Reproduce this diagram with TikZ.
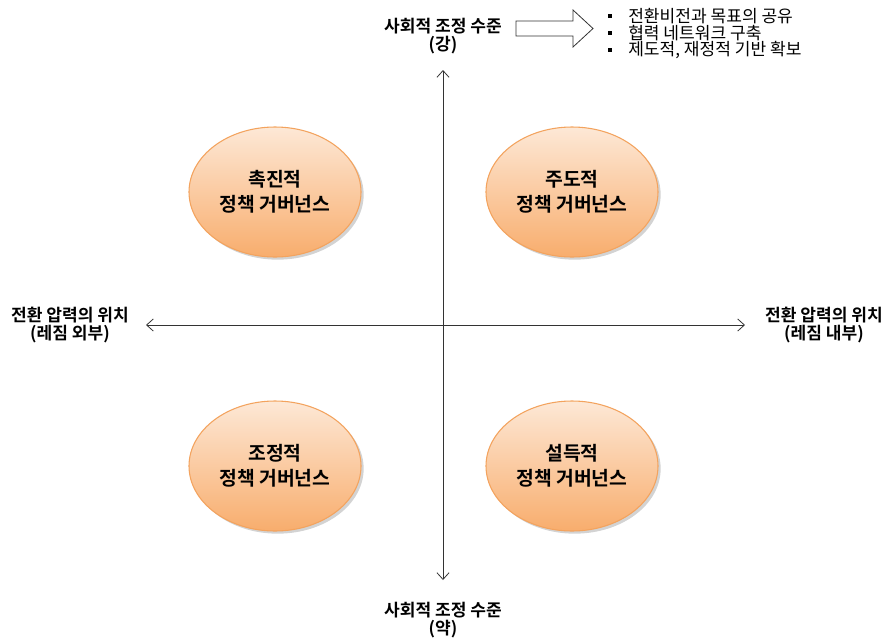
\documentclass[tikz,border=0pt]{standalone}
\usepackage{fontspec}
\setmainfont{Noto Sans CJK KR}
\newfontfamily\krbold{Noto Sans CJK KR Bold}
\newfontfamily\krreg{Noto Sans CJK KR}
\usetikzlibrary{shapes.geometric,shadows,arrows.meta}
\definecolor{peachtop}{HTML}{FDE8D6}
\definecolor{peachbot}{HTML}{F8AD6D}
\definecolor{peachline}{HTML}{F3A35E}
\begin{document}
\begin{tikzpicture}[x=0.75pt,y=-0.75pt,
  gov/.style={ellipse, minimum width=172*0.75pt, minimum height=130*0.75pt,
    draw=peachline, line width=0.8pt, top color=peachtop, bottom color=peachbot,
    drop shadow={shadow xshift=2pt, shadow yshift=-2pt, opacity=0.35},
    align=center, font=\krbold\fontsize{14.5}{18.5}\selectfont, inner sep=0pt},
  axlabel/.style={align=center, font=\krbold\fontsize{12.8}{13}\selectfont, inner sep=0pt},
  axis/.style={draw=black!80, line width=0.6pt, -{Straight Barb[length=5pt,width=9pt]}},
  bullettext/.style={anchor=west, font=\krreg\fontsize{12.8}{12.8}\selectfont, inner sep=0pt}
]
\useasboundingbox (0,0) rectangle (890,640);
% axes
\coordinate (c) at (443,325);
\coordinate (top) at (443,70);
\coordinate (bot) at (443,580);
\coordinate (lft) at (146,325);
\coordinate (rgt) at (745,325);
\draw[axis] (c) -- (top);
\draw[axis] (c) -- (bot);
\draw[axis] (c) -- (lft);
\draw[axis] (c) -- (rgt);
% axis labels
\node[axlabel] (tl) at (443,36) {사회적 조정 수준\\(강)};
\node[axlabel] (bl) at (443,620) {사회적 조정 수준\\(약)};
\node[axlabel] (ll) at (70,325) {전환 압력의 위치\\(레짐 외부)};
\node[axlabel] (rl) at (824,325) {전환 압력의 위치\\(레짐 내부)};
% ellipses
\node[gov] (e1) at (275,192) {촉진적\\정책 거버넌스};
\node[gov] (e2) at (572,192) {주도적\\정책 거버넌스};
\node[gov] (e3) at (275,466) {조정적\\정책 거버넌스};
\node[gov] (e4) at (572,466) {설득적\\정책 거버넌스};
% block arrow
\draw[black!80, line width=0.6pt, fill=white]
  (516,21) -- (573,21) -- (573,10) -- (593,28.5) -- (573,47) -- (573,36) -- (516,36) -- cycle;
% bullets
\foreach \yy/\txt/\nm in {16/{전환비전과 목표의 공유}/b1, 33/{협력 네트워크 구축}/b2, 50/{제도적, 재정적 기반 확보}/b3}{
  \fill[black] (608,\yy-2.2) rectangle (612.4,\yy+2.2);
  \node[bullettext] (\nm) at (628,\yy) {\txt};
}
\end{tikzpicture}
\end{document}
